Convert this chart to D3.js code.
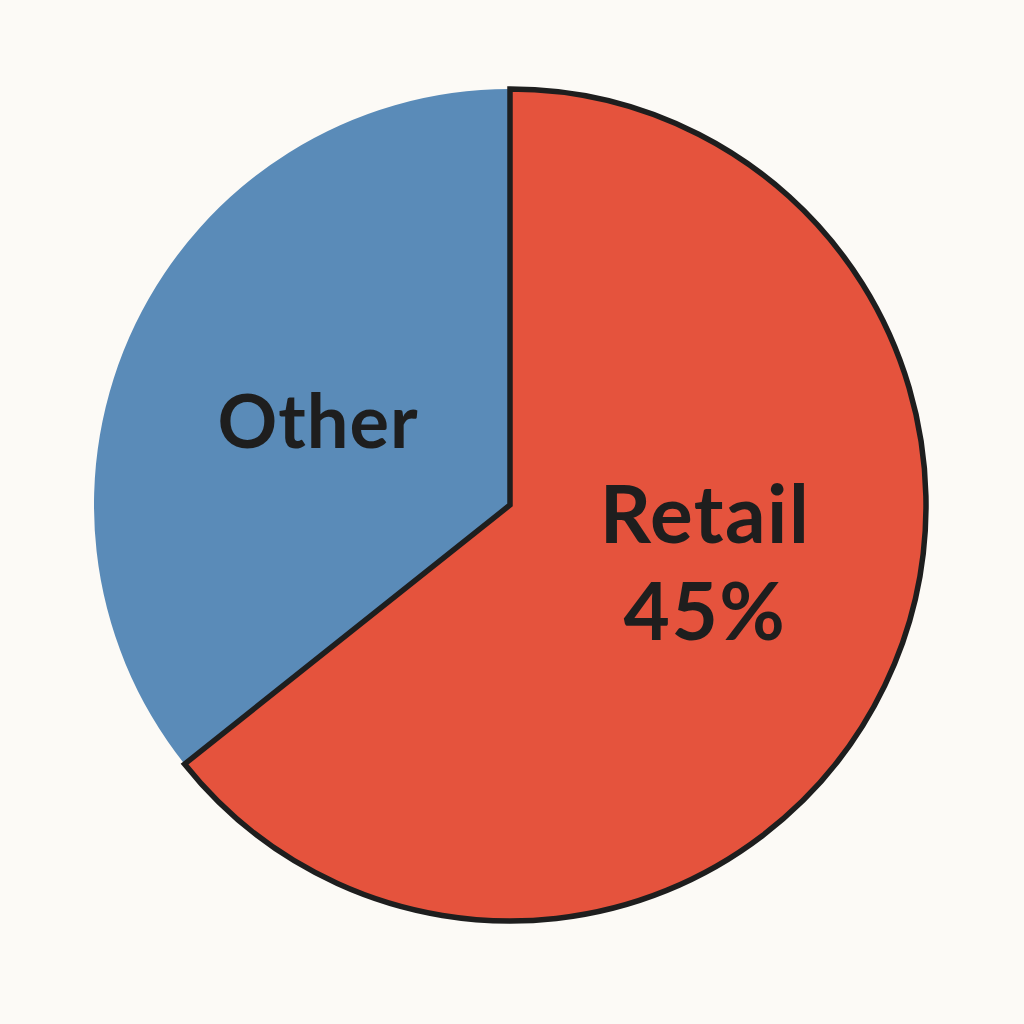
<!DOCTYPE html>
<html><head><meta charset="utf-8">
<script src="https://cdn.jsdelivr.net/npm/d3@7"></script>
<style>html,body{margin:0;padding:0;background:#fcfaf6;}</style>
</head><body>
<svg id="c" width="1024" height="1024"></svg>
<script>
const categories = ["Retail", "Other"];
const values = [64.3, 35.7];
const labelLines = [["Retail", "45%"], ["Other"]];
const colors = ["#e5533d", "#5a8bb8"];

const svg = d3.select("#c");
svg.append("rect").attr("width",1024).attr("height",1024).attr("fill","#fcfaf6");
const cx = 510, cy = 505, r = 416;
const g = svg.append("g").attr("transform", `translate(${cx},${cy})`);
const pie = d3.pie().sort(null).value(d => d.v);
const data = pie(categories.map((c,i)=>({c, v: values[i], i})));
const arc = d3.arc().innerRadius(0).outerRadius(r);
g.selectAll("path.s").data([data[1], data[0]]).enter().append("path")
  .attr("d", arc)
  .attr("fill", d => colors[d.data.i])
  .attr("stroke", d => d.data.i === 0 ? "#1e1e1e" : "none")
  .attr("stroke-width", 5.5)
  .attr("stroke-linejoin", "miter");

const labelPos = [[195, 38], [-192, -57]];
const sizes = [80, 74];
const spacing = [1.5, 1];
data.forEach((d,i) => {
  const lines = labelLines[i];
  const t = g.append("text")
    .attr("text-anchor","middle")
    .attr("font-family","Lato, 'Noto Sans', sans-serif")
    .attr("font-weight","bold")
    .attr("font-size", sizes[i])
    .attr("letter-spacing", spacing[i])
    .attr("fill","#1e1e1e");
  lines.forEach((ln,j) => {
    t.append("tspan").attr("x", labelPos[i][0]).attr("y", labelPos[i][1] + j*97).text(ln);
  });
});
</script>
</body></html>
